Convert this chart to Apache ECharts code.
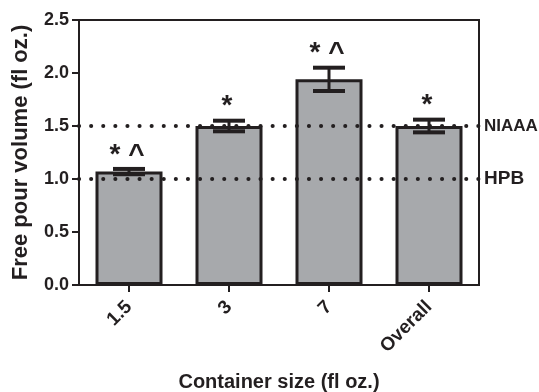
<!DOCTYPE html>
<html><head><meta charset="utf-8">
<script src="https://cdn.jsdelivr.net/npm/echarts@6/dist/echarts.min.js"></script>
<style>html,body{margin:0;padding:0;background:#fff}#c{width:539px;height:392px}</style>
</head><body><div id="c"></div>
<script>
const categories = ['1.5', '3', '7', 'Overall'];
const means = [1.07, 1.50, 1.94, 1.50];
const errors = [0.025, 0.05, 0.11, 0.06];
const annotations = ['* ^', '*', '* ^', '*'];
const refValues = [1.5, 1.0];
const refLabels = ['NIAAA', 'HPB'];
const yTicks = [0, 0.5, 1.0, 1.5, 2.0, 2.5];

const FONT = 'Liberation Sans, Arial, sans-serif';
const INK = '#231f20';
const chart = echarts.init(document.getElementById('c'), null, {renderer: 'canvas'});

const errData = categories.map((c, i) => [i, means[i], errors[i]]);

chart.setOption({
  animation: false,
  grid: {left: 79, right: 60, top: 20, bottom: 107, show: true, borderColor: INK, borderWidth: 2,
    backgroundColor: 'transparent', containLabel: false, outerBoundsMode: 'none'},
  xAxis: {
    type: 'category', data: categories,
    name: 'Container size (fl oz.)', nameLocation: 'middle', nameGap: 87,
    nameTextStyle: {fontFamily: FONT, fontWeight: 'bold', fontSize: 20, color: INK},
    axisLine: {lineStyle: {color: INK, width: 2}},
    axisTick: {show: true, alignWithLabel: true, length: 7, lineStyle: {color: INK, width: 2}},
    axisLabel: {rotate: 45, fontFamily: FONT, fontWeight: 'bold', fontSize: 19, color: INK, margin: 19}
  },
  yAxis: {
    type: 'value', min: 0, max: 2.5, interval: 0.5,
    name: 'Free pour volume (fl oz.)', nameLocation: 'middle', nameGap: 47,
    nameTextStyle: {fontFamily: FONT, fontWeight: 'bold', fontSize: 22, color: INK},
    axisLine: {show: true, lineStyle: {color: INK, width: 2}},
    axisTick: {show: true, length: 7, lineStyle: {color: INK, width: 2}},
    splitLine: {show: false},
    axisLabel: {fontFamily: FONT, fontWeight: 'bold', fontSize: 18, color: INK, margin: 10,
      formatter: v => yTicks.indexOf(v) >= 0 ? v.toFixed(1) : ''}
  },
  series: [
    {
      type: 'bar', data: means, barCategoryGap: '33%',
      itemStyle: {color: '#a7a9ac', borderColor: INK, borderWidth: 3},
      z: 2
    },
    {
      type: 'custom', data: errData, z: 5,
      renderItem: function (params, api) {
        const x = api.value(0), m = api.value(1), e = api.value(2);
        const top = api.coord([x, m + e]);
        const bot = api.coord([x, m - e]);
        const hw = 16;
        const style = {stroke: INK, lineWidth: 4};
        return {
          type: 'group',
          children: [
            {type: 'line', shape: {x1: top[0], y1: top[1], x2: bot[0], y2: bot[1]}, style: {stroke: INK, lineWidth: 3}},
            {type: 'line', shape: {x1: top[0] - hw, y1: top[1], x2: top[0] + hw, y2: top[1]}, style: style},
            {type: 'line', shape: {x1: bot[0] - hw, y1: bot[1], x2: bot[0] + hw, y2: bot[1]}, style: style},
            {type: 'text', x: top[0] - 2, y: top[1] - 14, style: {text: annotations[params.dataIndex], fill: INK,
              font: 'bold 28px ' + FONT, textAlign: 'center', textVerticalAlign: 'middle'}}
          ]
        };
      }
    },
    {
      type: 'line', data: [], z: 10,
      markLine: {
        silent: true, symbol: ['none', 'none'],
        lineStyle: {color: INK, width: 4, type: [0.1, 12], cap: 'round'},
        label: {show: true, position: 'end', fontFamily: FONT, fontWeight: 'bold', fontSize: 19, color: INK, distance: 5,
          formatter: p => refLabels[refValues.indexOf(p.value)]},
        data: [
          {yAxis: refValues[0], label: {fontSize: 17}},
          {yAxis: refValues[1]}
        ]
      }
    }
  ]
});
</script></body></html>
